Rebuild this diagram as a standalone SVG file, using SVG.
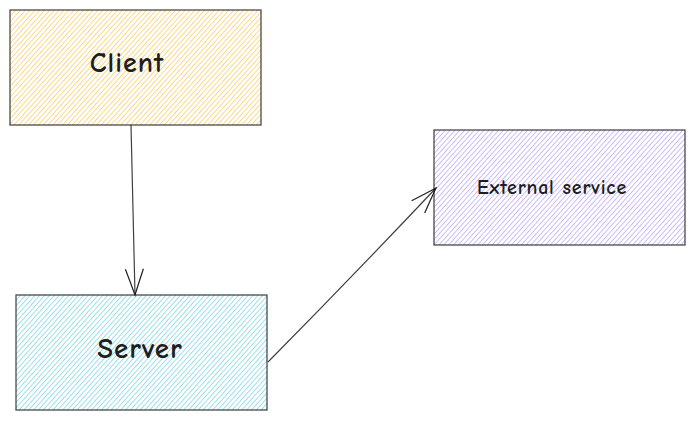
<svg xmlns="http://www.w3.org/2000/svg" width="695" height="421" viewBox="0 0 695 421">
  <defs>
    <pattern id="hY" width="3.6" height="4" patternUnits="userSpaceOnUse" patternTransform="rotate(42)">
      <line x1="0" y1="0" x2="0" y2="4" stroke="#fab005" stroke-width="1.1" stroke-opacity="0.85"/>
    </pattern>
    <pattern id="hC" width="3.6" height="4" patternUnits="userSpaceOnUse" patternTransform="rotate(42)">
      <line x1="0" y1="0" x2="0" y2="4" stroke="#22b8cf" stroke-width="1.1" stroke-opacity="0.8"/>
    </pattern>
    <pattern id="hP" width="3.6" height="4" patternUnits="userSpaceOnUse" patternTransform="rotate(42)">
      <line x1="0" y1="0" x2="0" y2="4" stroke="#845ef7" stroke-width="1.1" stroke-opacity="0.75"/>
    </pattern>
    <marker id="arr" viewBox="0 0 30 24" refX="28" refY="12" markerWidth="30" markerHeight="24" markerUnits="userSpaceOnUse" orient="auto">
      <path d="M2 3 Q16 8 28 12 Q16 16 2 21" fill="none" stroke="#1e1e1e" stroke-width="1.2"/>
    </marker>
  </defs>
  <style>
    .box { stroke: #1e1e1e; stroke-width: 1.3; stroke-opacity: 0.8; }
    .lbl { font-family: "Comic Neue", "Liberation Sans", "DejaVu Sans", sans-serif; fill: #1e1e1e; text-anchor: middle; dominant-baseline: central; font-weight: bold; }
    .conn { fill: none; stroke: #1e1e1e; stroke-width: 1.2; stroke-opacity: 0.85; }
  </style>
  <rect width="695" height="421" fill="#ffffff"/>
  <g id="client">
    <rect class="box" x="10" y="10" width="251" height="115" fill="url(#hY)"/>
    <text class="lbl" x="127" y="63" font-size="28" letter-spacing="1">Client</text>
  </g>
  <g id="server">
    <rect class="box" x="16" y="295" width="251" height="115" fill="url(#hC)"/>
    <text class="lbl" x="140" y="348" font-size="29" letter-spacing="1">Server</text>
  </g>
  <g id="external">
    <rect class="box" x="434" y="130" width="251" height="115" fill="url(#hP)"/>
    <text class="lbl" x="552" y="187" font-size="20" letter-spacing="0.8">External service</text>
  </g>
  <g id="connectors">
    <path class="conn" d="M131 125 Q133 210 135 295" marker-end="url(#arr)"/>
    <path class="conn" d="M268 362 Q352 277 436 188" marker-end="url(#arr)"/>
  </g>
</svg>
